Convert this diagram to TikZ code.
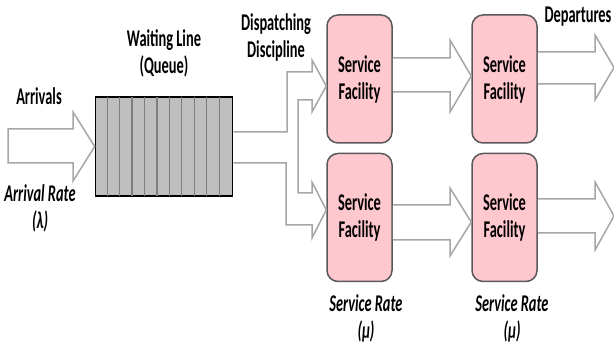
\documentclass[tikz,border=0pt]{standalone}
\usepackage{fontspec}
\setmainfont{Carlito}
\usetikzlibrary{calc}

\definecolor{facpink}{HTML}{FFC7CE}
\definecolor{facline}{HTML}{595959}
\definecolor{arrline}{HTML}{A6A6A6}
\definecolor{queuefill}{HTML}{BFBFBF}
\definecolor{queueline}{HTML}{7F7F7F}

\begin{document}
\begin{tikzpicture}[x=1pt, y=-1pt,
				    facility/.style={draw=facline, line width=1.5pt, rounded corners=11pt,
				    			  fill=facpink, minimum width=65pt, minimum height=128pt},
				    queue/.style={draw=black, line width=1.6pt, fill=queuefill,
				    			  minimum width=137pt, minimum height=99pt},
				    label/.style={font=\bfseries\fontsize{24}{27}\selectfont, align=center,
				    			  xscale=0.6, inner sep=0pt},
				    rate/.style={label, font=\bfseries\itshape\fontsize{24}{27}\selectfont},
				    block/.style={draw=arrline, line width=1.5pt, fill=white, line join=miter}]
	\useasboundingbox (0,0) rectangle (614,344);

	% queue and service facilities
	\node[queue] (q) at (164, 146.5) {};
	\foreach \i in {1,...,10}
		\draw[queueline, line width=1.2pt] ($(q.north west)+(\i*137/11,0.8)$) -- ($(q.south west)+(\i*137/11,-0.8)$);
	\node[facility] (sf1) at (359.5, 79) {};
	\node[facility] (sf2) at (359.5, 217.5) {};
	\node[facility] (sf3) at (504.5, 79) {};
	\node[facility] (sf4) at (504.5, 217.5) {};

	% block arrows
	\draw[block] (8,129) -- (73,129) -- (73,112) -- (q.west) -- (73,181) -- (73,163) -- (8,163) -- cycle;
	\draw[block] (q.east |- 0,132) -- (287,132) -- (287,72) -- (312,72) -- (312,60) -- (sf1.west |- 0,86)
		-- (312,112) -- (312,100) -- (298,100) -- (298,193) -- (312,193) -- (312,182) -- (sf2.west |- 0,210)
		-- (312,238) -- (312,225) -- (286,225) -- (286,163) -- (q.east |- 0,163);
	\draw[block] (sf1.east |- 0,58) -- (450,58) -- (450,40) -- (sf3.west |- 0,76) -- (450,112) -- (450,92) -- (sf1.east |- 0,92);
	\draw[block] (sf2.east |- 0,205) -- (450,205) -- (450,188) -- (sf4.west |- 0,222) -- (450,256) -- (450,240) -- (sf2.east |- 0,240);
	\coordinate (out1) at (614, 67.5);
	\coordinate (out2) at (614, 216);
	\draw[block] (sf3.east |- 0,52) -- (595,52) -- (595,35) -- (out1) -- (595,100) -- (595,84) -- (sf3.east |- 0,84);
	\draw[block] (sf4.east |- 0,199) -- (595,199) -- (595,182) -- (out2) -- (595,250) -- (595,233) -- (sf4.east |- 0,233);

	% texts
	\node[label] (t1) at (sf1) {Service\\Facility};
	\node[label] (t2) at (sf2) {Service\\Facility};
	\node[label] (t3) at (sf3) {Service\\Facility};
	\node[label] (t4) at (sf4) {Service\\Facility};
	\node[label] (arr) at (39, 96) {Arrivals};
	\node[label] (wl) at (164, 53) {Waiting Line\\(Queue)};
	\node[label] (dd) at (276, 37) {Dispatching\\Discipline};
	\node[label] (dep) at (578, 17) {Departures};
	\node[rate] (ar) at (40, 208) {Arrival Rate\\(λ)};
	\node[rate] (sr1) at (366, 318) {Service Rate\\(μ)};
	\node[rate] (sr2) at (512, 318) {Service Rate\\(μ)};

\end{tikzpicture}
\end{document}
